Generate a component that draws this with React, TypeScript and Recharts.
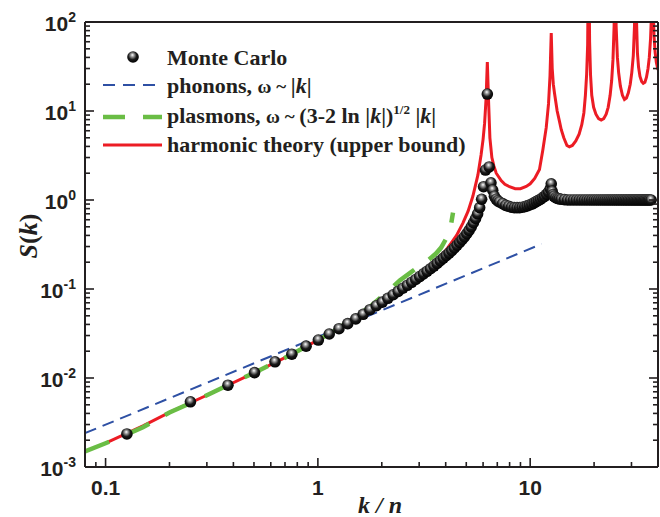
import React from "react";
import { ComposedChart, Line, Scatter, XAxis, YAxis, Legend } from "recharts";

// Monte Carlo points, S(k) vs k/n
const mcK = [
  0.126, 0.251, 0.377, 0.503, 0.628, 0.754, 0.88, 1.005, 1.131, 1.257,
  1.382, 1.508, 1.634, 1.759, 1.885, 2.011, 2.136, 2.262, 2.388, 2.513,
  2.639, 2.765, 2.89, 3.016, 3.142, 3.267, 3.393, 3.519, 3.644, 3.77,
  3.896, 4.021, 4.147, 4.273, 4.398, 4.524, 4.65, 4.775, 4.901, 5.027,
  5.152, 5.278, 5.404, 5.529, 5.655, 5.781, 5.906, 6.032, 6.158, 6.283,
  6.409, 6.535, 6.66, 6.786, 6.912, 7.037, 7.163,
  7.414, 7.665, 7.917, 8.168, 8.419, 8.671, 8.922, 9.173, 9.425, 9.676,
  9.927, 10.179, 10.43, 10.681, 10.933, 11.184, 11.435, 11.687, 11.938, 12.189,
  12.441, 12.566, 12.692, 12.818, 12.943, 13.195, 13.446, 13.7, 14.0, 14.5,
  15.0, 15.5, 16.0, 16.5, 17.0, 17.5, 18.0, 18.5, 19.0, 19.5,
  20.0, 20.5, 21.0, 21.5, 22.0, 22.5, 23.0, 23.5, 24.0, 24.5,
  25.0, 25.5, 26.0, 26.5, 27.0, 27.5, 28.0, 28.5, 29.0, 29.5,
  30.0, 30.5, 31.0, 31.5, 32.0, 32.5, 33.0, 33.5, 34.0, 34.5,
  35.0, 35.5, 36.0, 36.5, 37.1,
];
const mcS = [
  0.00235, 0.0054, 0.0083, 0.0115, 0.0152, 0.0185, 0.0228, 0.0267, 0.0312, 0.0358,
  0.0408, 0.0462, 0.052, 0.0585, 0.0648, 0.0712, 0.0786, 0.0862, 0.094, 0.102,
  0.11, 0.119, 0.128, 0.138, 0.148, 0.158, 0.169, 0.181, 0.194, 0.208,
  0.222, 0.237, 0.253, 0.27, 0.289, 0.31, 0.333, 0.358, 0.386, 0.418,
  0.455, 0.5, 0.555, 0.62, 0.7, 0.82, 1.02, 1.41, 2.17, 15.5,
  2.35, 1.56, 1.29, 1.1, 1.02, 0.98, 0.95,
  0.91, 0.87, 0.85, 0.83, 0.82, 0.82, 0.82, 0.83, 0.84, 0.86,
  0.88, 0.9, 0.93, 0.96, 0.99, 1.02, 1.06, 1.1, 1.16, 1.23,
  1.34, 1.52, 1.25, 1.15, 1.1, 1.06, 1.04, 1.03, 1.02, 1.01,
  1.0, 1.0, 1.0, 1.0, 1.0, 1.0, 1.0, 1.0, 1.0, 1.0,
  1.0, 1.0, 1.0, 1.0, 1.0, 1.0, 1.0, 1.0, 1.0, 1.0,
  1.0, 1.0, 1.0, 1.0, 1.0, 1.0, 1.0, 1.0, 1.0, 1.0,
  1.0, 1.0, 1.0, 1.0, 1.0, 1.0, 1.0, 1.0, 1.0, 1.0,
  1.0, 1.0, 1.0, 1.0, 1.0,
];

// phonons, w ~ |k|
const phononK = [0.08, 1.0, 11.3];
const phononS = [0.0024, 0.029, 0.32];

// plasmons, w ~ (3 - 2 ln|k|)^1/2 |k|
const plasmonK = [
  0.08, 0.1, 0.125, 0.15, 0.2, 0.25, 0.3, 0.4, 0.5, 0.6, 0.7, 0.8, 0.9, 1.0,
  1.2, 1.5, 1.8, 2.0, 2.2, 2.43, 2.7, 3.0, 3.3, 3.6, 3.8, 4.0, 4.15, 4.25, 4.33,
];
const plasmonS = [
  0.0015, 0.00185, 0.0023, 0.0028, 0.0041, 0.0052, 0.0064, 0.0089, 0.0114, 0.0141,
  0.0169, 0.02, 0.0232, 0.0266, 0.034, 0.048, 0.066, 0.082, 0.1, 0.125,
  0.15, 0.18, 0.21, 0.25, 0.29, 0.36, 0.45, 0.55, 0.72,
];

// harmonic theory (upper bound)
const harmK = [
  0.1, 0.15, 0.2, 0.3, 0.5, 0.7, 1.0, 1.3, 1.6, 2.0,
  2.4, 2.7, 3.0, 3.4, 3.74, 4.0, 4.25, 4.5, 4.82, 5.1,
  5.37, 5.67, 5.87, 6.0, 6.1, 6.2, 6.283, 6.36, 6.46, 6.6,
  6.75, 6.92, 7.3, 7.6, 7.99, 8.5, 9.0, 9.58, 10.0, 10.5,
  11.06, 11.46, 11.9, 12.2, 12.4, 12.566, 12.7, 12.85, 13.02, 13.4,
  13.7, 14.0, 14.4, 14.9, 15.3, 15.8, 16.4, 17.0, 17.5, 17.9,
  18.2, 18.45, 18.65, 18.85, 19.05, 19.25, 19.5, 19.9, 20.4, 21.0,
  21.6, 22.2, 22.8, 23.3, 23.8, 24.2, 24.55, 24.85, 25.13, 25.4,
  25.75, 26.1, 26.6, 27.2, 27.8, 28.4, 29.0, 29.6, 30.1, 30.6,
  31.0, 31.42, 31.7, 32.0, 32.4, 32.9, 33.5, 34.1, 34.7, 35.3,
  35.9, 36.4, 36.9, 37.3, 37.7, 37.95, 38.3, 38.8, 39.3, 40.0,
];
const harmS = [
  0.00186, 0.0029, 0.0041, 0.0064, 0.0114, 0.0169, 0.0266, 0.038, 0.052, 0.075,
  0.1, 0.125, 0.15, 0.19, 0.23, 0.27, 0.33, 0.4, 0.55, 0.75,
  1.1, 1.9, 3.2, 4.8, 7.3, 14, 35.5, 14, 5.0, 3.0,
  2.4, 2.0, 1.65, 1.5, 1.41, 1.34, 1.34, 1.42, 1.52, 1.75,
  2.2, 3.6, 6.5, 12, 25, 75, 30, 20, 15.8, 10,
  7.9, 6.2, 5.0, 4.1, 3.95, 4.1, 4.6, 5.5, 7.0, 9.5,
  15, 26, 55, 1000, 60, 25, 15, 11, 9.2, 8.2,
  7.9, 8.2, 9.2, 11, 15, 22, 38, 90, 1000, 90,
  40, 27, 19, 15, 13.5, 14, 16, 20, 27, 42,
  90, 1000, 100, 45, 31, 24.5, 21.5, 20.5, 21, 24,
  30, 40, 65, 130, 1000, 150, 70, 45, 35, 29,
];

const xMajor = [0.1, 1, 10];
const xMinor = [0.09, 0.2, 0.3, 0.4, 0.5, 0.6, 0.7, 0.8, 0.9, 2, 3, 4, 5, 6, 7, 8, 9, 20, 30];
const yMajor = [0.001, 0.01, 0.1, 1, 10, 100];
const yExponents = ["-3", "-2", "-1", "0", "1", "2"];
const yMinor = [
  0.002, 0.003, 0.004, 0.005, 0.006, 0.007, 0.008, 0.009,
  0.02, 0.03, 0.04, 0.05, 0.06, 0.07, 0.08, 0.09,
  0.2, 0.3, 0.4, 0.5, 0.6, 0.7, 0.8, 0.9,
  2, 3, 4, 5, 6, 7, 8, 9,
  20, 30, 40, 50, 60, 70, 80, 90,
];

const zip = (ks: number[], ss: number[]) => ks.map((k, i) => ({ k, s: ss[i] }));
const mcData = zip(mcK, mcS);
const phononData = zip(phononK, phononS);
const plasmonData = zip(plasmonK, plasmonS);
const harmData = zip(harmK, harmS);

const AX = "#231f20";
const BLUE = "#2e50a4";
const GREEN = "#6abd45";
const RED = "#ec1c24";
const SERIF = "'Liberation Serif', 'Times New Roman', serif";
const SANS = "'Liberation Sans', Arial, sans-serif";

const majorIndex = (v: number, list: number[]) =>
  list.findIndex((m) => Math.abs(m - v) / m < 1e-6);

const BottomTick = ({ x, y, payload }: any) => {
  const major = majorIndex(payload.value, xMajor) >= 0;
  return (
    <g>
      <line x1={x} x2={x} y1={y} y2={y - (major ? 9 : 5)} stroke={AX} strokeWidth={1.6} />
      {major && (
        <text x={x} y={y + 28} textAnchor="middle" fontFamily={SANS} fontWeight="bold" fontSize={21} fill={AX}>
          {payload.value}
        </text>
      )}
    </g>
  );
};

const TopTick = ({ x, y, payload }: any) => {
  const major = majorIndex(payload.value, xMajor) >= 0;
  return <line x1={x} x2={x} y1={y} y2={y + (major ? 9 : 5)} stroke={AX} strokeWidth={1.6} />;
};

const LeftTick = ({ x, y, payload }: any) => {
  const idx = majorIndex(payload.value, yMajor);
  const major = idx >= 0;
  return (
    <g>
      <line x1={x} x2={x + (major ? 9 : 5)} y1={y} y2={y} stroke={AX} strokeWidth={1.6} />
      {major && (
        <text x={x - 9} y={y + 9} textAnchor="end" fontFamily={SANS} fontWeight="bold" fontSize={21} fill={AX}>
          10
          <tspan dy={-9} fontSize={14}>{yExponents[idx]}</tspan>
        </text>
      )}
    </g>
  );
};

const RightTick = ({ x, y, payload }: any) => {
  const major = majorIndex(payload.value, yMajor) >= 0;
  return <line x1={x} x2={x - (major ? 9 : 5)} y1={y} y2={y} stroke={AX} strokeWidth={1.6} />;
};

const Sphere = (props: any) => {
  const { cx, cy } = props;
  if (cx == null || cy == null) return null;
  return <circle cx={cx} cy={cy} r={5.8} fill="url(#mcSphere) #111" />;
};

const SphereGradient = ({ id }: { id: string }) => (
  <radialGradient id={id} cx="45%" cy="40%" r="60%" fx="45%" fy="32%">
    <stop offset="0%" stopColor="#ffffff" />
    <stop offset="25%" stopColor="#9a9a9a" />
    <stop offset="60%" stopColor="#1a1a1a" />
    <stop offset="100%" stopColor="#000000" />
  </radialGradient>
);

const LegendBox = () => (
  <svg width={480} height={170} style={{ display: "block", overflow: "visible" }}>
    <defs>
      <SphereGradient id="lgSphere" />
    </defs>
    <circle cx={133} cy={57} r={5.8} fill="url(#lgSphere) #111" />
    <text x={167} y={65} fontFamily={SERIF} fontWeight="bold" fontSize={22} fill={AX}>
      Monte Carlo
    </text>

    <line x1={103} x2={157} y1={85} y2={85} stroke={BLUE} strokeWidth={2} strokeDasharray="12 8" />
    <text x={167} y={93} fontFamily={SERIF} fontWeight="bold" fontSize={22} fill={AX}>
      {"phonons, "}
      <tspan fontSize={19}>{"ω ~ "}</tspan>
      {"|"}
      <tspan fontStyle="italic">k</tspan>
      {"|"}
    </text>

    <line x1={103} x2={162} y1={117} y2={117} stroke={GREEN} strokeWidth={4.5} strokeDasharray="22 18" />
    <text x={167} y={123} fontFamily={SERIF} fontWeight="bold" fontSize={22} fill={AX}>
      {"plasmons, "}
      <tspan fontSize={19}>{"ω ~ "}</tspan>
      {"(3-2 ln |"}
      <tspan fontStyle="italic">k</tspan>
      {"|)"}
      <tspan dy={-9} fontSize={13}>1/2</tspan>
      <tspan dy={9}>{" |"}</tspan>
      <tspan fontStyle="italic">k</tspan>
      {"|"}
    </text>

    <line x1={103} x2={162} y1={145} y2={145} stroke={RED} strokeWidth={3} />
    <text x={167} y={152} fontFamily={SERIF} fontWeight="bold" fontSize={22} fill={AX}>
      harmonic theory (upper bound)
    </text>
  </svg>
);

const YTitle = () => (
  <text
    x={37}
    y={236}
    transform="rotate(-90, 37, 236)"
    textAnchor="middle"
    fontFamily={SERIF}
    fontWeight="bold"
    fontSize={26}
    fill={AX}
  >
    <tspan fontStyle="italic">S</tspan>(<tspan fontStyle="italic">k</tspan>)
  </text>
);

const XTitle = () => (
  <text x={380} y={513} textAnchor="middle" fontFamily={SERIF} fontWeight="bold" fontStyle="italic" fontSize={24} fill={AX}>
    k / n
  </text>
);

export default function App() {
  return (
    <div style={{ position: "absolute", left: 0, top: 0, width: 660, height: 517, background: "#fff" }}>
      <ComposedChart width={660} height={517} margin={{ top: 0, right: 0, bottom: 0, left: 0 }}>
        <defs>
          <SphereGradient id="mcSphere" />
        </defs>
        <XAxis
          dataKey="k"
          type="number"
          scale="log"
          domain={[0.08, 40]}
          allowDataOverflow
          ticks={[...xMajor, ...xMinor]}
          interval={0}
          tick={BottomTick}
          tickSize={0}
          tickMargin={0}
          tickLine={false}
          height={50}
          axisLine={{ stroke: AX, strokeWidth: 2 }}
          label={() => <XTitle />}
        />
        <XAxis
          xAxisId="top"
          orientation="top"
          type="number"
          scale="log"
          domain={[0.08, 40]}
          allowDataOverflow
          ticks={[...xMajor, ...xMinor]}
          interval={0}
          tick={TopTick}
          tickSize={0}
          tickMargin={0}
          tickLine={false}
          height={22}
          axisLine={{ stroke: AX, strokeWidth: 2 }}
        />
        <YAxis
          dataKey="s"
          type="number"
          scale="log"
          domain={[0.001, 100]}
          allowDataOverflow
          ticks={[...yMajor, ...yMinor]}
          interval={0}
          tick={LeftTick}
          tickSize={0}
          tickMargin={0}
          tickLine={false}
          width={85}
          axisLine={{ stroke: AX, strokeWidth: 2 }}
          label={() => <YTitle />}
        />
        <YAxis
          yAxisId="right"
          orientation="right"
          type="number"
          scale="log"
          domain={[0.001, 100]}
          allowDataOverflow
          ticks={[...yMajor, ...yMinor]}
          interval={0}
          tick={RightTick}
          tickSize={0}
          tickMargin={0}
          tickLine={false}
          width={2}
          axisLine={{ stroke: AX, strokeWidth: 2 }}
        />
        <Legend
          layout="vertical"
          align="center"
          verticalAlign="middle"
          wrapperStyle={{ left: 0, top: 0, width: 480, height: 170 }}
          content={() => <LegendBox />}
        />
        <Line
          data={phononData}
          dataKey="s"
          stroke={BLUE}
          strokeWidth={2}
          strokeDasharray="12 7"
          dot={false}
          activeDot={false}
          isAnimationActive={false}
          type="linear"
        />
        <Line
          data={harmData}
          dataKey="s"
          stroke={RED}
          strokeWidth={3}
          dot={false}
          activeDot={false}
          isAnimationActive={false}
          type="linear"
        />
        <Line
          data={plasmonData}
          dataKey="s"
          stroke={GREEN}
          strokeWidth={4.5}
          strokeDasharray="26 18"
          dot={false}
          activeDot={false}
          isAnimationActive={false}
          type="linear"
        />
        <Scatter data={mcData} dataKey="s" shape={Sphere} isAnimationActive={false} />
      </ComposedChart>
    </div>
  );
}
